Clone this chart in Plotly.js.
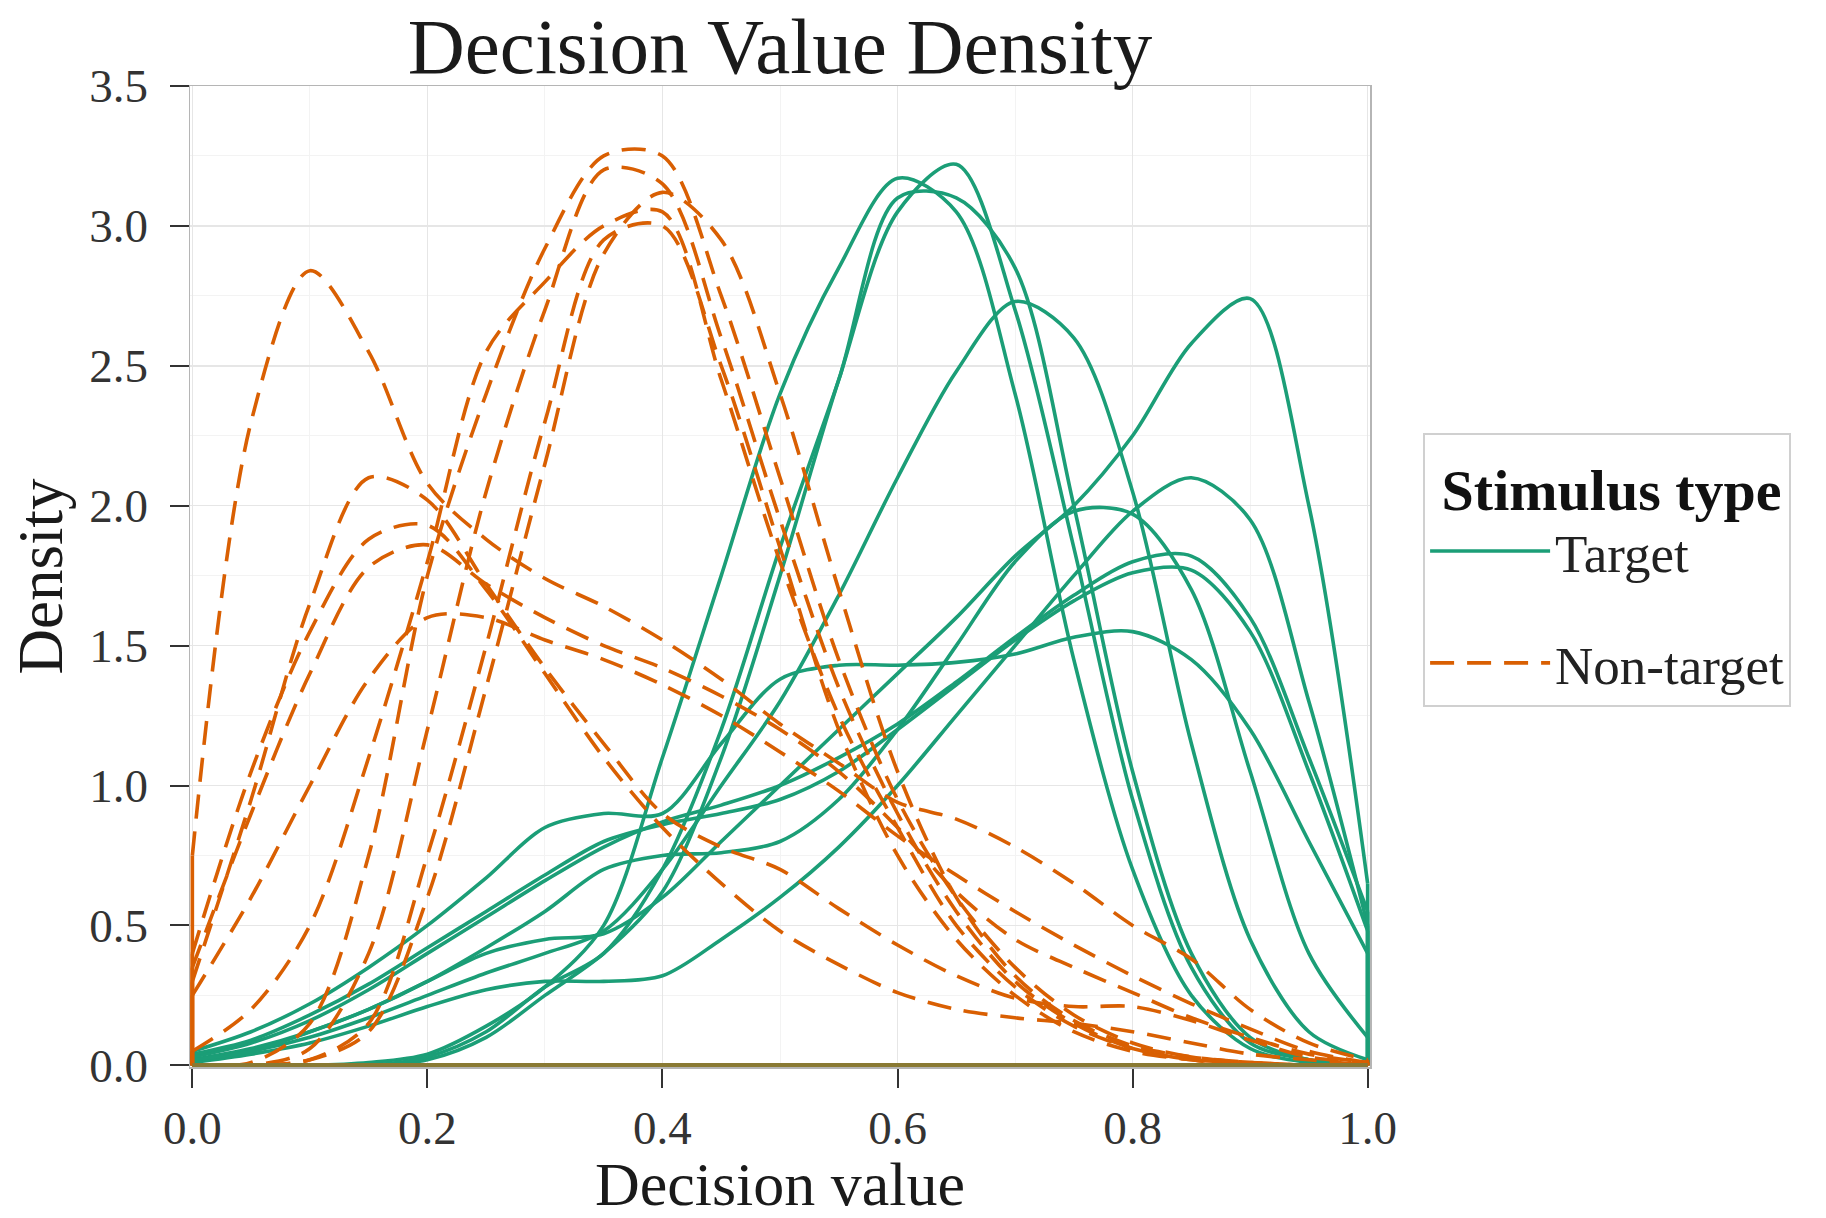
<!DOCTYPE html>
<html><head><meta charset="utf-8">
<script src="https://cdn.plot.ly/plotly-3.0.1.min.js"></script>
<style>html,body{margin:0;padding:0;background:#fff}#chart{width:1826px;height:1218px}</style>
</head><body><div id="chart"></div>
<script>
// Decision value grid (x) shared by all density curves
const decisionValues = [0,0.05,0.1,0.15,0.2,0.25,0.3,0.35,0.4,0.45,0.5,0.55,0.6,0.65,0.7,0.75,0.8,0.85,0.9,0.95,1.0];

// Target (solid green) density curves
const target1  = [0,0,0,0,0.02,0.1,0.25,0.4,0.62,1.1,1.75,2.45,3.05,3.22,2.7,1.85,0.95,0.35,0.08,0.02,0];
const target2  = [0,0,0,0.01,0.04,0.14,0.28,0.5,1.1,1.75,2.4,2.85,3.17,3.05,2.4,1.45,0.7,0.25,0.06,0.01,0];
const target3  = [0,0,0,0,0.03,0.12,0.28,0.4,0.7,1.2,1.85,2.45,3.1,3.1,2.85,2.0,1.05,0.4,0.1,0.02,0];
const target4  = [0.02,0.05,0.1,0.17,0.25,0.33,0.4,0.48,0.7,1.0,1.3,1.68,2.1,2.48,2.73,2.6,2.05,1.15,0.45,0.12,0.02];
const target5  = [0.02,0.06,0.12,0.2,0.3,0.4,0.45,0.47,0.6,0.8,1.0,1.2,1.4,1.6,1.82,2.0,2.25,2.58,2.74,2.0,0.65];
const target6  = [0.01,0.04,0.08,0.14,0.21,0.27,0.3,0.3,0.32,0.45,0.6,0.78,1.0,1.25,1.5,1.75,1.98,2.1,1.95,1.3,0.5];
const target7  = [0.02,0.05,0.12,0.2,0.3,0.42,0.55,0.7,0.75,0.76,0.8,0.95,1.2,1.5,1.8,1.98,1.97,1.7,1.05,0.4,0.1];
const target8  = [0.03,0.08,0.16,0.27,0.4,0.53,0.66,0.78,0.87,0.93,1.0,1.1,1.22,1.37,1.53,1.68,1.8,1.82,1.6,1.1,0.55];
const target9  = [0.04,0.09,0.18,0.29,0.42,0.55,0.68,0.8,0.86,0.9,0.95,1.05,1.2,1.36,1.52,1.66,1.76,1.77,1.55,1.05,0.48];
const target10 = [0.05,0.12,0.22,0.35,0.5,0.67,0.85,0.9,0.9,1.15,1.38,1.43,1.43,1.44,1.47,1.53,1.55,1.45,1.2,0.8,0.4];

// Non-target (dashed orange) density curves
const nonTarget1  = [0.75,2.3,2.84,2.55,2.08,1.88,1.74,1.64,1.52,1.38,1.22,1.08,0.94,0.88,0.78,0.65,0.5,0.38,0.2,0.08,0.02];
const nonTarget2  = [0.3,0.95,1.65,2.1,2.02,1.72,1.42,1.15,0.9,0.78,0.7,0.56,0.43,0.32,0.24,0.21,0.21,0.16,0.09,0.03,0.01];
const nonTarget3  = [0.35,0.9,1.4,1.78,1.86,1.72,1.6,1.5,1.42,1.32,1.2,1.05,0.85,0.62,0.45,0.35,0.26,0.17,0.1,0.04,0.01];
const nonTarget4  = [0.25,0.6,1.0,1.38,1.6,1.6,1.52,1.45,1.36,1.25,1.12,0.98,0.82,0.68,0.55,0.43,0.32,0.22,0.13,0.05,0.01];
const nonTarget5  = [0.4,1.05,1.55,1.88,1.93,1.7,1.4,1.1,0.85,0.65,0.48,0.36,0.26,0.2,0.17,0.15,0.12,0.08,0.04,0.02,0];
const nonTarget6  = [0,0.01,0.15,0.75,1.75,2.4,2.92,3.25,3.25,2.75,2.1,1.45,0.95,0.6,0.35,0.18,0.08,0.03,0.01,0,0];
const nonTarget7  = [0,0,0.06,0.4,1.2,2.05,2.7,3.2,3.15,2.6,1.95,1.35,0.9,0.55,0.3,0.15,0.06,0.02,0.01,0,0];
const nonTarget8  = [0,0,0.02,0.15,0.75,1.5,2.3,2.95,3.0,2.5,1.85,1.2,0.75,0.45,0.25,0.12,0.05,0.02,0,0,0];
const nonTarget9  = [0,0,0.02,0.12,0.6,1.35,2.15,2.9,3.12,2.95,2.4,1.7,1.05,0.6,0.32,0.16,0.07,0.03,0.01,0,0];
const nonTarget10 = [0.05,0.2,0.5,1.1,1.8,2.55,2.8,3.0,3.05,2.45,1.8,1.25,0.85,0.5,0.28,0.14,0.06,0.02,0.01,0,0];

const targetCurves = [target1,target2,target3,target4,target5,target6,target7,target8,target9,target10];
const nonTargetCurves = [nonTarget1,nonTarget2,nonTarget3,nonTarget4,nonTarget5,nonTarget6,nonTarget7,nonTarget8,nonTarget9,nonTarget10];

const GREEN = '#1b9e77', ORANGE = '#d95f02';
const FONT = '"Liberation Serif", "DejaVu Serif", serif';
const LW = 3.6;

function densityTraces(values, color, dash, name, first) {
  const n = values.length;
  const x0 = decisionValues[0], x1 = decisionValues[n - 1];
  const curve = {
    x: decisionValues, y: values, type: 'scatter', mode: 'lines',
    line: {color: color, width: LW, dash: dash, shape: 'spline', smoothing: 0.9},
    name: name, legendgroup: name, showlegend: first, hoverinfo: 'skip'
  };
  // vertical edges of the density outline at the bounds of the data
  const edges = {
    x: [x0, x0, null, x1, x1],
    y: [0, values[0], null, 0, values[n - 1]],
    type: 'scatter', mode: 'lines',
    line: {color: color, width: LW},
    legendgroup: name, showlegend: false, hoverinfo: 'skip'
  };
  return [curve, edges];
}

function baselineTrace(color, opacity, name) {
  return {
    x: [decisionValues[0], decisionValues[decisionValues.length - 1]], y: [0, 0],
    type: 'scatter', mode: 'lines', line: {color: color, width: 4.5}, opacity: opacity,
    legendgroup: name, showlegend: false, hoverinfo: 'skip'
  };
}

const traces = [];
targetCurves.forEach((v, i) => traces.push(...densityTraces(v, GREEN, 'solid', 'Target', i === 0)));
nonTargetCurves.forEach((v, i) => traces.push(...densityTraces(v, ORANGE, '24px,13px', 'Non-target', i === 0)));
traces.push(baselineTrace(ORANGE, 1, 'Non-target'));
traces.push(baselineTrace(GREEN, 0.42, 'Target'));

const axisCommon = {
  ticks: 'outside', ticklen: 19, tickwidth: 2, tickcolor: '#333',
  showline: true, mirror: true, linecolor: '#b5b5b5', linewidth: 1.5,
  showgrid: true, gridcolor: '#e6e6e6', gridwidth: 1.5,
  zeroline: false, tickformat: '.1f',
  tickfont: {family: FONT, size: 47, color: '#333'}
};

const layout = {
  width: 1826, height: 1218,
  paper_bgcolor: '#ffffff', plot_bgcolor: '#ffffff',
  margin: {l: 190, r: 456, t: 86, b: 151},
  font: {family: FONT, color: '#222'},
  title: {text: 'Decision Value Density', font: {family: FONT, size: 79, color: '#1a1a1a'},
          x: 0.5, xref: 'paper', xanchor: 'center', y: 1 - 45 / 1218, yref: 'container', yanchor: 'middle'},
  xaxis: Object.assign({}, axisCommon, {
    range: [-0.002, 1.002], tick0: 0, dtick: 0.2, ticklabelstandoff: 0,
    minor: {dtick: 0.1, tick0: 0, showgrid: true, gridcolor: '#f3f3f3', gridwidth: 1},
    title: {text: 'Decision value', font: {family: FONT, size: 62, color: '#1a1a1a'}, standoff: 14}
  }),
  yaxis: Object.assign({}, axisCommon, {
    range: [-0.006, 3.5], tick0: 0, dtick: 0.5, ticklabelstandoff: 12,
    minor: {dtick: 0.25, tick0: 0, showgrid: true, gridcolor: '#f3f3f3', gridwidth: 1},
    title: {text: 'Density', font: {family: FONT, size: 63, color: '#1a1a1a'}, standoff: 6}
  }),
  legend: {
    x: 1.045, xanchor: 'left', y: 0.507, yanchor: 'middle',
    bgcolor: '#ffffff', bordercolor: '#d0d0d0', borderwidth: 2,
    font: {family: FONT, size: 53, color: '#222'},
    title: {text: '&nbsp;<b>Stimulus type</b>', font: {family: FONT, size: 58, color: '#111'}},
    traceorder: 'grouped', tracegroupgap: 40, itemwidth: 120
  },
  showlegend: true
};

Plotly.newPlot('chart', traces, layout, {displayModeBar: false, staticPlot: true});
</script>
</body></html>
